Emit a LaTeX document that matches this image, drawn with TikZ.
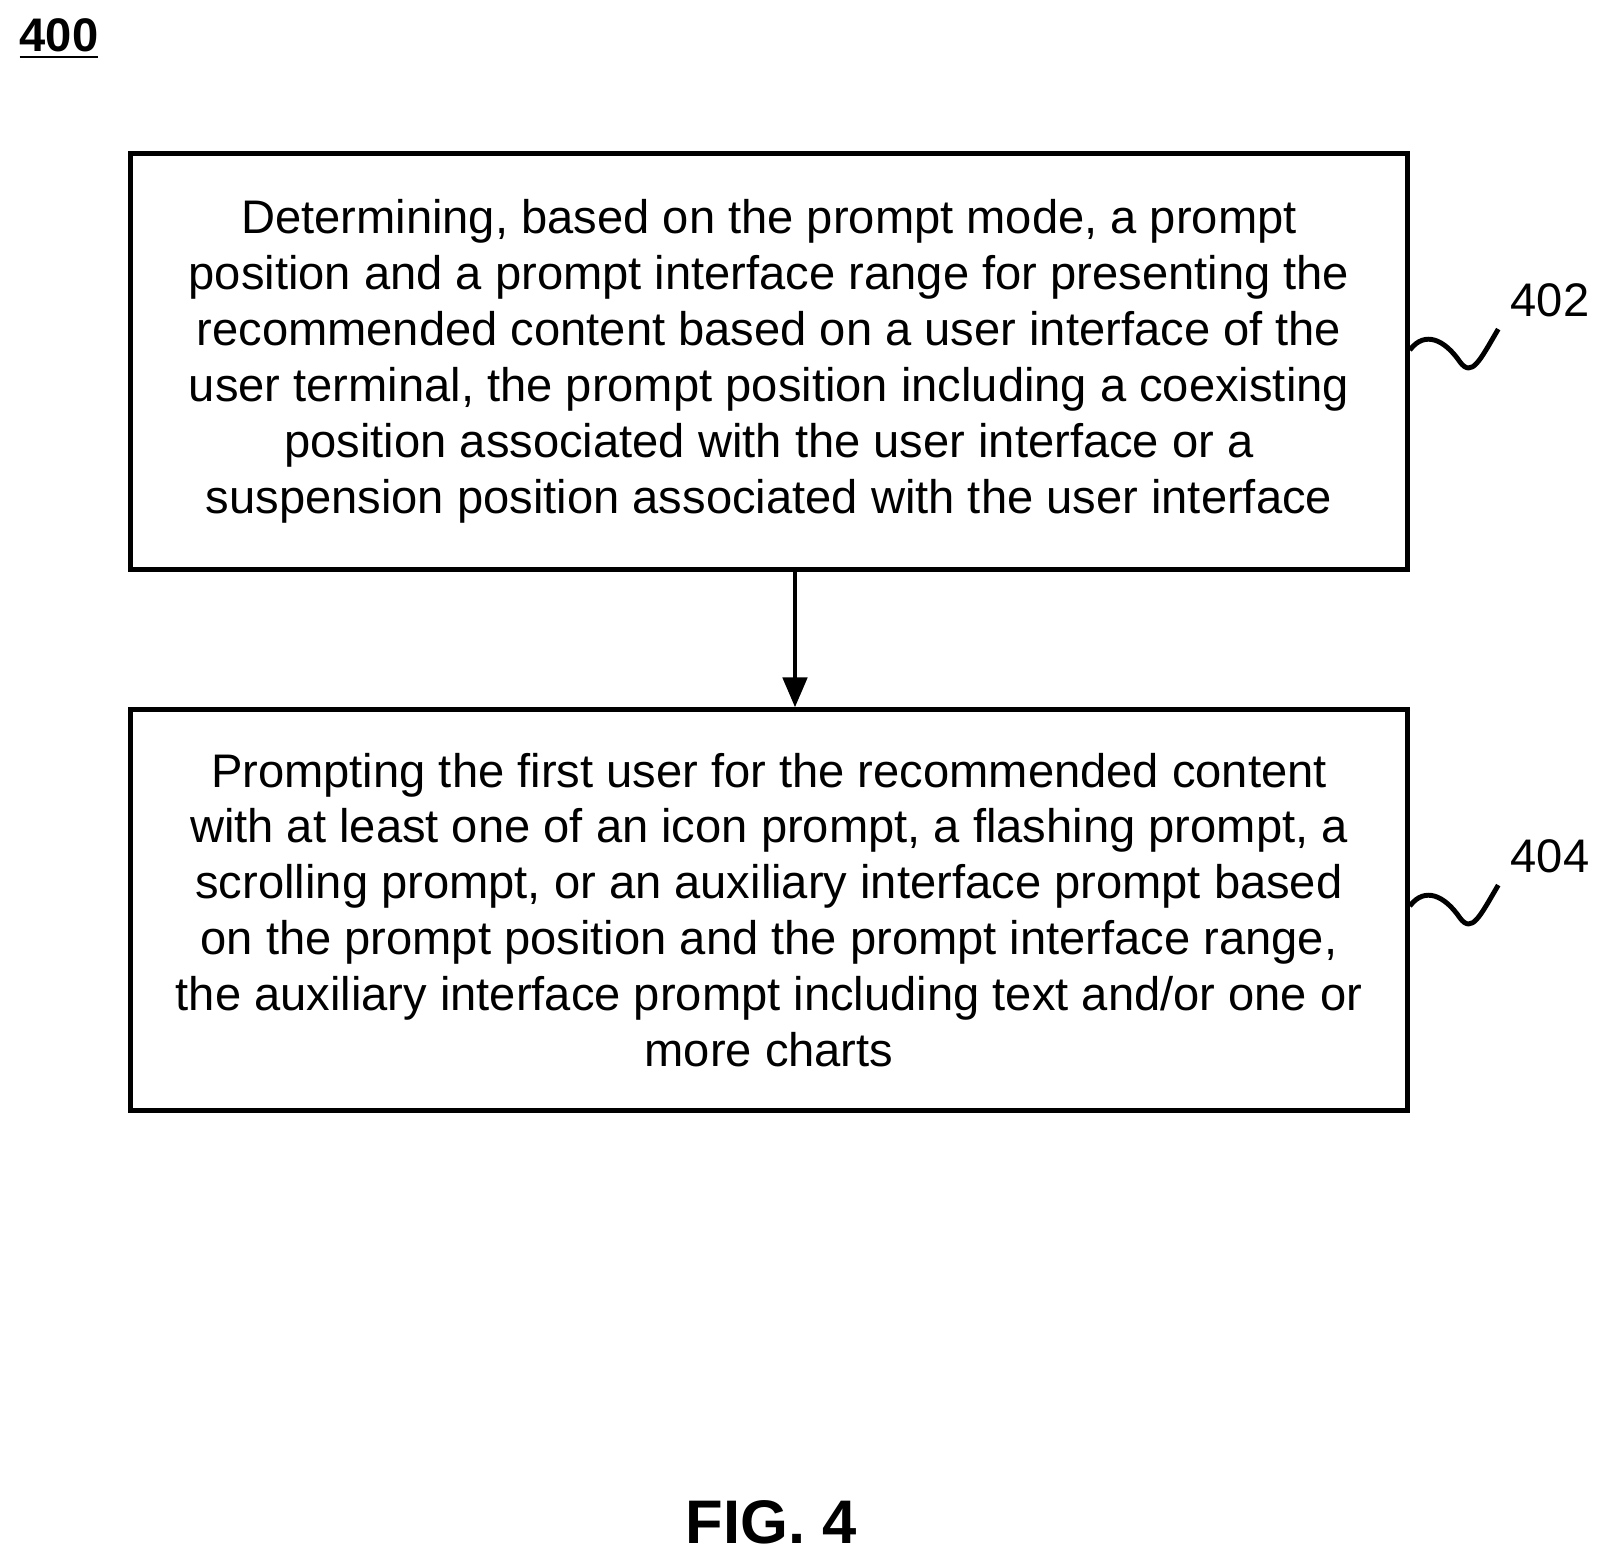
\documentclass[tikz,border=0pt]{standalone}
\usepackage{fontspec}
\setmainfont{Liberation Sans}
\usetikzlibrary{arrows.meta}
\tikzset{
  step box/.style={draw, line width=1.4pt, minimum width=12.76cm, align=center,
    font=\fontsize{13.4}{15.9}\selectfont, inner sep=0pt},
  ref label/.style={font=\fontsize{13.4}{15.9}\selectfont}
}
\begin{document}
\begin{tikzpicture}[x=0.01cm,y=-0.01cm]
        \useasboundingbox (0,0) rectangle (1605,1560);
        % Figure number
        \node [font=\bfseries\fontsize{13.4}{15.9}\selectfont] (num) at (59,39) {\underline{400}};

        % Steps
        \node [step box, minimum height=4.15cm] (s402) at (769,361.5) {Determining, based on the prompt mode, a prompt\\
            position and a prompt interface range for presenting the\\
            recommended content based on a user interface of the\\
            user terminal, the prompt position including a coexisting\\
            position associated with the user interface or a\\
            suspension position associated with the user interface};
        \node [step box, minimum height=4.0cm] (s404) at (769,910) {Prompting the first user for the recommended content\\
            with at least one of an icon prompt, a flashing prompt, a\\
            scrolling prompt, or an auxiliary interface prompt based\\
            on the prompt position and the prompt interface range,\\
            the auxiliary interface prompt including text and/or one or\\
            more charts};
        \draw [line width=1.4pt, -{Triangle[length=0.3cm,width=0.24cm]}] (s402.south -| 795,0) -- (s404.north -| 795,0);

        % Reference labels
        \node [ref label] (l402) at (1550,300) {402};
        \node [ref label] (l404) at (1550,856) {404};
        \draw [line width=1.4pt] (s402.east |- 0,350) .. controls (1425,330) and (1445,340) .. (1460,362)
            .. controls (1472,378) and (1480,360) .. (l402.south west);
        \draw [line width=1.4pt] (s404.east |- 0,906) .. controls (1425,886) and (1445,896) .. (1460,918)
            .. controls (1472,934) and (1480,916) .. (l404.south west);

        \node [font=\bfseries\fontsize{17.5}{20}\selectfont] (fig) at (771,1522) {FIG. 4};
\end{tikzpicture}
\end{document}
